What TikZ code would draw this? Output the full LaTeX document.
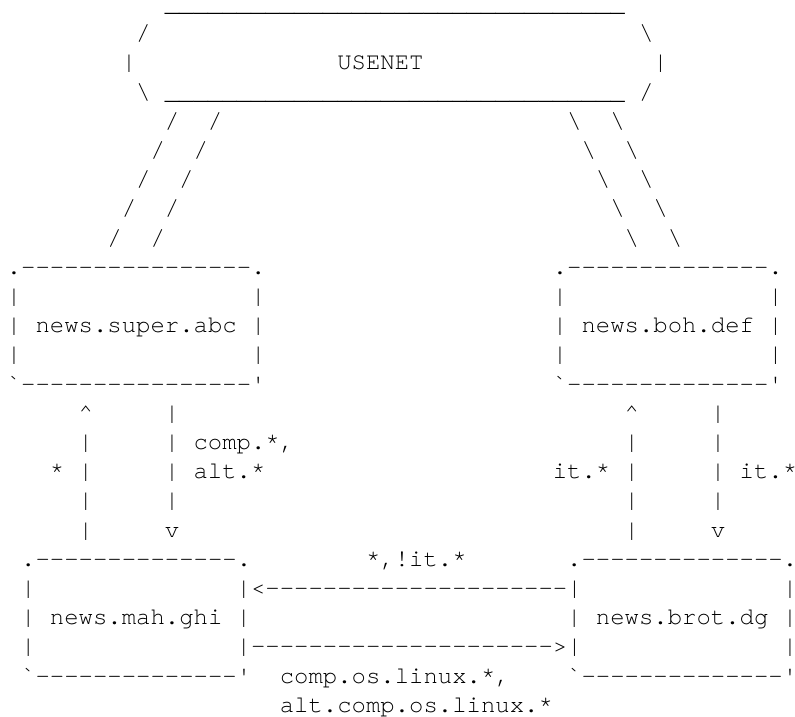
\documentclass[tikz,border=0pt]{standalone}
\usepackage{fontspec}
\setmonofont{TeX Gyre Cursor}
\newcommand{\usenetrule}{\_\_\_\_\_\_\_\_\_\_\_\_\_\_\_\_\_\_\_\_\_\_\_\_\_\_\_\_\_\_\_\_}
\begin{document}
\begin{tikzpicture}[x=10.78pt,y=-21.9pt,
    ch/.style={anchor=base west,inner sep=0pt,outer sep=0pt,
      font=\ttfamily\fontsize{17.97pt}{21.9pt}\selectfont}]
  \useasboundingbox (-0.473,0.603) rectangle (54.85,25.158);

  \node[ch] (usenet-top) at (11,1) {\usenetrule};
  \node[ch] (usenet-nw) at (9,2) {/};
  \node[ch] (usenet-ne) at (44,2) {\textbackslash};
  \node[ch] (usenet-w) at (8,3) {|};
  \node[ch] (usenet) at (23,3) {USENET};
  \node[ch] (usenet-e) at (45,3) {|};
  \node[ch] (usenet-sw) at (9,4) {\textbackslash};
  \node[ch] (usenet-bot) at (11,4) {\usenetrule};
  \node[ch] (usenet-se) at (44,4) {/};

  \foreach \r/\a/\b/\c/\d in {5/11/14/39/42,6/10/13/40/43,7/9/12/41/44,8/8/11/42/45,9/7/10/43/46}{
    \node[ch] (sa-\r) at (\a,\r) {/};
    \node[ch] (sb-\r) at (\b,\r) {/};
    \node[ch] (ba-\r) at (\c,\r) {\textbackslash};
    \node[ch] (bb-\r) at (\d,\r) {\textbackslash};
  }

  \node[ch] (super-top) at (0,10) {.----------------.};
  \node[ch] (boh-top) at (38,10) {.--------------.};
  \foreach \r in {11,12,13}{
    \node[ch] (super-w\r) at (0,\r) {|};
    \node[ch] (super-e\r) at (17,\r) {|};
    \node[ch] (boh-w\r) at (38,\r) {|};
    \node[ch] (boh-e\r) at (53,\r) {|};
  }
  \node[ch] (super) at (2,12) {news.super.abc};
  \node[ch] (boh) at (40,12) {news.boh.def};
  \node[ch] (super-bot) at (0,14) {`----------------'};
  \node[ch] (boh-bot) at (38,14) {`--------------'};

  \node[ch] (up-l) at (5,15) {\textasciicircum};
  \node[ch] (up-r) at (43,15) {\textasciicircum};
  \foreach \r in {16,17,18,19}{
    \node[ch] (lu-\r) at (5,\r) {|};
    \node[ch] (ru-\r) at (43,\r) {|};
  }
  \foreach \r in {15,16,17,18}{
    \node[ch] (ld-\r) at (11,\r) {|};
    \node[ch] (rd-\r) at (49,\r) {|};
  }
  \node[ch] (down-l) at (11,19) {v};
  \node[ch] (down-r) at (49,19) {v};
  \node[ch] (lbl-comp) at (13,16) {comp.*,};
  \node[ch] (lbl-alt) at (13,17) {alt.*};
  \node[ch] (lbl-star) at (3,17) {*};
  \node[ch] (lbl-itl) at (38,17) {it.*};
  \node[ch] (lbl-itr) at (51,17) {it.*};

  \node[ch] (mah-top) at (1,20) {.--------------.};
  \node[ch] (brot-top) at (39,20) {.--------------.};
  \node[ch] (lbl-notit) at (25,20) {*,!it.*};
  \foreach \r in {21,22,23}{
    \node[ch] (mah-w\r) at (1,\r) {|};
    \node[ch] (brot-e\r) at (54,\r) {|};
  }
  \node[ch] (to-mah) at (16,21) {|<---------------------|};
  \node[ch] (mah-e22) at (16,22) {|};
  \node[ch] (brot-w22) at (39,22) {|};
  \node[ch] (to-brot) at (16,23) {|--------------------->|};
  \node[ch] (mah) at (3,22) {news.mah.ghi};
  \node[ch] (brot) at (41,22) {news.brot.dg};
  \node[ch] (mah-bot) at (1,24) {`--------------'};
  \node[ch] (brot-bot) at (39,24) {`--------------'};
  \node[ch] (lbl-linux) at (19,24) {comp.os.linux.*,};
  \node[ch] (lbl-altlinux) at (19,25) {alt.comp.os.linux.*};
\end{tikzpicture}
\end{document}
